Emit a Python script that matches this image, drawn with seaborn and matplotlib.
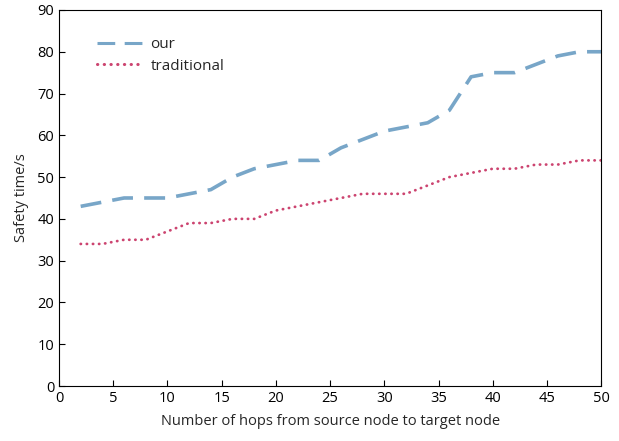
import matplotlib
matplotlib.use('Agg')
import matplotlib.pyplot as plt
import seaborn as sns
import pandas as pd

# hops from source to target node
hops = [2, 4, 6, 8, 10, 12, 14, 16, 18, 20, 22, 24, 26,
        28, 30, 32, 34, 36, 38, 40, 42, 44, 46, 48, 50]

# safety time (s)
our = [43, 44, 45, 45, 45, 46, 47, 50, 52, 53, 54, 54, 57,
       59, 61, 62, 63, 66, 74, 75, 75, 77, 79, 80, 80]
traditional = [34, 34, 35, 35, 37, 39, 39, 40, 40, 42, 43, 44, 45,
               46, 46, 46, 48, 50, 51, 52, 52, 53, 53, 54, 54]

df = pd.DataFrame({'hops': hops, 'our': our, 'traditional': traditional})

sns.set_style('ticks')
plt.rcParams['font.family'] = ['Open Sans', 'DejaVu Sans']

fig = plt.figure(figsize=(6.19, 4.41), dpi=100)
ax = fig.add_axes([0.0953, 0.1247, 0.876, 0.8527])

sns.lineplot(data=df, x='hops', y='our', ax=ax, color='#78a6c8',
             linewidth=2.6, label='our')
sns.lineplot(data=df, x='hops', y='traditional', ax=ax, color='#cc4470',
             linewidth=2.0, label='traditional')
ax.lines[0].set_dashes([5.8, 3.1])
ax.lines[1].set_dashes([0.1, 2.1])
ax.lines[1].set_dash_capstyle('round')

ax.set_xlim(0, 50)
ax.set_ylim(0, 90)
ax.set_xticks(range(0, 51, 5))
ax.set_yticks(range(0, 91, 10))
ax.tick_params(direction='in', length=4, width=0.8, labelsize=10.5, colors='black')
for s in ax.spines.values():
    s.set_linewidth(0.8)
    s.set_color('black')

ax.set_xlabel('Number of hops from source node to target node', fontsize=10.5, labelpad=6)
ax.set_ylabel('Safety time/s', fontsize=10.5, labelpad=6)

leg = ax.legend(loc='upper left', frameon=False, fontsize=11,
                bbox_to_anchor=(0.045, 0.965), handlelength=3.0,
                handletextpad=0.5, labelspacing=0.45)
for h in leg.get_lines():
    h.set_linewidth(2.2)

fig.savefig('out.png', dpi=100)
